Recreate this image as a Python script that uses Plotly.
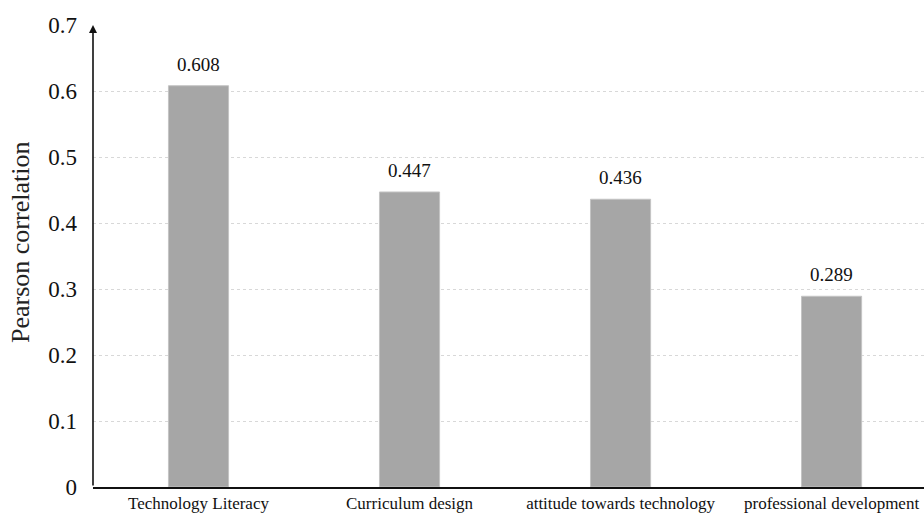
import plotly.graph_objects as go

# Pearson correlation of each factor
categories = ["Technology Literacy", "Curriculum design",
              "attitude towards technology", "professional development"]
correlations = [0.608, 0.447, 0.436, 0.289]
y_ticks = [0, 0.1, 0.2, 0.3, 0.4, 0.5, 0.6, 0.7]
y_tick_text = ["0", "0.1", "0.2", "0.3", "0.4", "0.5", "0.6", "0.7"]
y_title = "Pearson correlation"

serif = "Liberation Serif, Times New Roman, serif"

fig = go.Figure()
fig.add_trace(go.Bar(
    x=list(range(len(categories))),
    y=correlations,
    width=0.285,
    marker=dict(color="#a6a6a6", line=dict(color="#c4c4c4", width=1)),
    hoverinfo="skip",
))

# value labels above the bars
for i, v in enumerate(correlations):
    fig.add_annotation(x=i, y=v, text=f"{v:.3f}", showarrow=False,
                       yanchor="bottom", yshift=9,
                       font=dict(family=serif, size=19, color="#111"))

# y axis with arrowhead
fig.add_annotation(x=-0.5, y=0.7, ax=-0.5, ay=0, xref="x", yref="y",
                   axref="x", ayref="y", showarrow=True, arrowhead=2,
                   arrowsize=1, arrowwidth=1.6, arrowcolor="#111", text="")

# rotated y-axis title, sitting slightly above the vertical centre
fig.add_annotation(x=-0.088, y=0.53, xref="paper", yref="paper",
                   text=y_title, textangle=-90, showarrow=False,
                   xanchor="center", yanchor="middle",
                   font=dict(family=serif, size=26, color="#222"))

fig.update_layout(
    width=924, height=518,
    margin=dict(l=93, r=0, t=25, b=31),
    paper_bgcolor="white", plot_bgcolor="white",
    showlegend=False,
    xaxis=dict(
        range=[-0.5, 3.438],
        tickmode="array", tickvals=list(range(len(categories))),
        ticktext=categories,
        tickfont=dict(family=serif, size=17, color="#111"),
        showgrid=False, zeroline=False,
        showline=True, linecolor="#111", linewidth=2,
        ticks="", ticklen=0,
    ),
    yaxis=dict(
        range=[0, 0.7],
        tickmode="array", tickvals=y_ticks, ticktext=y_tick_text,
        tickfont=dict(family=serif, size=23, color="#111"),
        showgrid=True, gridcolor="#d8d8d8", griddash="dot", gridwidth=1,
        zeroline=False, showline=False, ticks="", ticklabelstandoff=15,
    ),
)

fig.write_html("out.html")
